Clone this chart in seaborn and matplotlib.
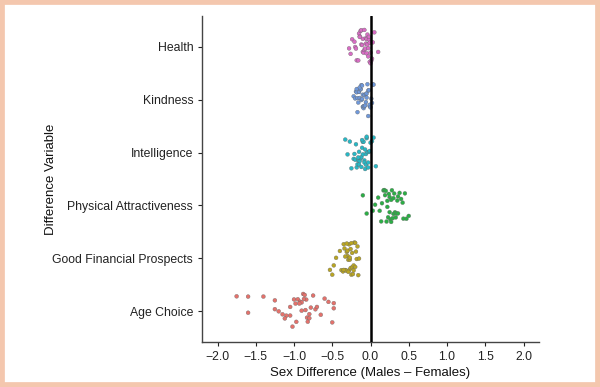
import numpy as np
import pandas as pd
import matplotlib
matplotlib.use("Agg")
import matplotlib.pyplot as plt
import seaborn as sns
from matplotlib.patches import Rectangle

categories = ["Health", "Kindness", "Intelligence", "Physical Attractiveness",
              "Good Financial Prospects", "Age Choice"]

health = [-0.28, -0.26, -0.24, -0.20, -0.18, -0.16, -0.15, -0.14, -0.13, -0.12,
          -0.12, -0.11, -0.10, -0.10, -0.09, -0.08, -0.08, -0.07, -0.06, -0.06,
          -0.05, -0.05, -0.04, -0.04, -0.03, -0.03, -0.02, -0.02, -0.01, -0.01,
          0.00, 0.00, 0.01, 0.02, 0.03, 0.05, 0.10, -0.19, -0.21, -0.14]
kindness = [-0.22, -0.20, -0.19, -0.18, -0.17, -0.17, -0.16, -0.15, -0.15, -0.14,
            -0.13, -0.13, -0.12, -0.12, -0.11, -0.10, -0.10, -0.09, -0.09, -0.08,
            -0.08, -0.07, -0.06, -0.06, -0.05, -0.05, -0.04, -0.03, -0.03, -0.02,
            -0.01, -0.01, 0.00, 0.01, 0.02, 0.03, 0.04, -0.18, -0.14, -0.11]
intelligence = [-0.33, -0.30, -0.27, -0.25, -0.22, -0.21, -0.20, -0.19, -0.18, -0.17,
                -0.16, -0.15, -0.15, -0.14, -0.13, -0.12, -0.12, -0.11, -0.10, -0.10,
                -0.09, -0.08, -0.08, -0.07, -0.06, -0.06, -0.05, -0.04, -0.03, -0.03,
                -0.02, -0.01, 0.00, 0.02, 0.04, 0.07, -0.16, -0.11, -0.07, -0.05]
physical = [-0.10, -0.05, 0.03, 0.06, 0.10, 0.12, 0.14, 0.15, 0.17, 0.18,
            0.20, 0.21, 0.22, 0.23, 0.24, 0.25, 0.25, 0.26, 0.27, 0.28,
            0.29, 0.30, 0.30, 0.31, 0.32, 0.33, 0.34, 0.35, 0.36, 0.38,
            0.40, 0.42, 0.43, 0.45, 0.47, 0.50, 0.27, 0.22, 0.19, 0.36]
financial = [-0.53, -0.50, -0.48, -0.45, -0.40, -0.38, -0.36, -0.35, -0.34, -0.33,
             -0.32, -0.31, -0.30, -0.30, -0.29, -0.28, -0.28, -0.27, -0.26, -0.26,
             -0.25, -0.24, -0.24, -0.23, -0.22, -0.22, -0.21, -0.20, -0.20, -0.19,
             -0.18, -0.17, -0.16, -0.15, -0.35, -0.31, -0.27, -0.25, -0.29, -0.33]
age = [-1.75, -1.60, -1.60, -1.40, -1.25, -1.25, -1.20, -1.15, -1.10, -1.05,
       -1.05, -1.00, -0.98, -0.97, -0.95, -0.92, -0.90, -0.90, -0.88, -0.86,
       -0.85, -0.84, -0.83, -0.82, -0.80, -0.80, -0.78, -0.75, -0.72, -0.70,
       -0.65, -0.60, -0.55, -0.50, -0.48, -0.48, -1.02, -0.93, -0.87, -1.12]

series = [health, kindness, intelligence, physical, financial, age]
colors = ["#d86cc4", "#6f98da", "#26b8c6", "#2bae45", "#b9a522", "#e4716b"]

rows = []
for cat, vals in zip(categories, series):
    for v in vals:
        rows.append((cat, v))
df = pd.DataFrame(rows, columns=["Difference Variable", "Sex Difference"])

sns.set_theme(style="ticks")
plt.rcParams["font.family"] = ["Liberation Sans", "DejaVu Sans"]

fig = plt.figure(figsize=(6.0, 3.87), dpi=100, facecolor="white")
ax = fig.add_axes([0.337, 0.116, 0.561, 0.843])
ax.set_facecolor("white")

np.random.seed(3)
sns.stripplot(data=df, x="Sex Difference", y="Difference Variable", order=categories,
              hue="Difference Variable", hue_order=categories, palette=colors,
              jitter=0.33, size=2.8, linewidth=0.25, edgecolor="#666666",
              legend=False, ax=ax, zorder=3)

ax.axvline(0, color="black", lw=1.8, zorder=4)
ax.set_xlim(-2.2, 2.2)
ax.set_ylim(5.58, -0.58)
ax.set_xticks(np.arange(-2.0, 2.01, 0.5))
ax.set_xticklabels([f"{t:.1f}".replace("-", "\u2212") for t in np.arange(-2.0, 2.01, 0.5)])
ax.tick_params(axis="both", labelsize=8.8, colors="#222222", length=3, width=0.8)
ax.set_xlabel("Sex Difference (Males \u2013 Females)", fontsize=9.5, color="#111111", labelpad=3)
ax.set_ylabel("Difference Variable", fontsize=9.5, color="#111111")
ax.yaxis.set_label_coords(-0.43, 0.5)
for s in ["top", "right"]:
    ax.spines[s].set_visible(False)
for s in ["left", "bottom"]:
    ax.spines[s].set_color("#444444")
    ax.spines[s].set_linewidth(1.0)

fig.patches.append(Rectangle((0, 0), 1, 1, transform=fig.transFigure,
                             facecolor="none", edgecolor="#f4c7ae", linewidth=7,
                             zorder=10))

fig.savefig("out.png", dpi=100, facecolor=fig.get_facecolor())
